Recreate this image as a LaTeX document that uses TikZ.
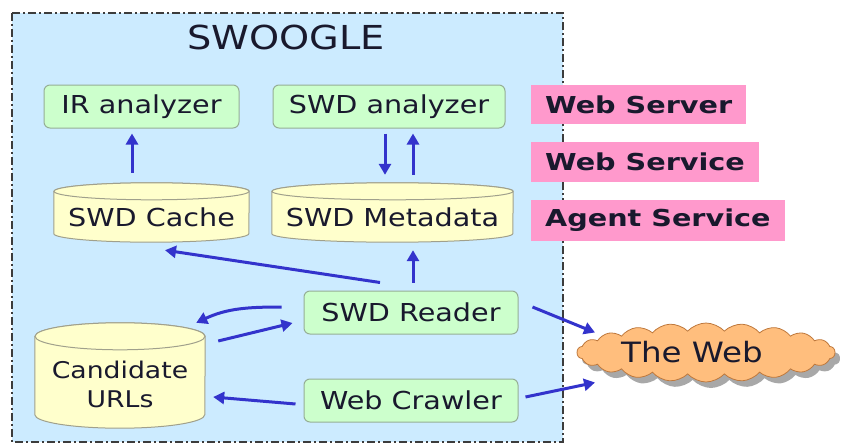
\documentclass[tikz,border=0pt]{standalone}
\usepackage{fontspec}
\setmainfont{DejaVu Sans}
\usepackage{graphicx}
\usetikzlibrary{arrows.meta,shapes.symbols,shadows,calc}
\definecolor{bluebg}{RGB}{204,235,255}
\definecolor{greenfill}{RGB}{204,255,204}
\definecolor{greenline}{RGB}{150,175,150}
\definecolor{yellowcyl}{RGB}{255,255,204}
\definecolor{cylline}{RGB}{160,160,140}
\definecolor{pinklab}{RGB}{255,153,204}
\definecolor{arrblue}{RGB}{51,51,204}
\definecolor{cloudfill}{RGB}{255,190,125}
\definecolor{cloudline}{RGB}{190,120,60}
\definecolor{txt}{RGB}{25,25,45}
\definecolor{frameline}{RGB}{60,60,60}
\newcommand\hst[1]{\scalebox{1.16}[1]{#1}}
\newcommand\lst[1]{\scalebox{1.23}[1]{#1}}
% #1 node name, #2 x radius, #3 y radius
\newcommand\drawcyl[3]{%
  \filldraw[cylstyle] ([yshift=-#3pt]#1.north west) -- ([yshift=#3pt]#1.south west)
    arc[start angle=180,end angle=0,x radius=#2,y radius=#3]
    -- ([yshift=-#3pt]#1.north east)
    arc[start angle=0,end angle=-180,x radius=#2,y radius=#3] -- cycle;
  \filldraw[cylstyle] ([yshift=-#3pt]#1.north) ellipse[x radius=#2,y radius=#3];
}
\begin{document}
\begin{tikzpicture}[x=1pt,y=-1pt,
  boxtext/.style={font=\fontsize{24.7}{29}\selectfont, text=txt},
  gbox/.style={rectangle, rounded corners=6pt, draw=greenline, line width=1pt,
     fill=greenfill, minimum height=43pt, inner sep=0pt, boxtext},
  cylbase/.style={rectangle, inner sep=0pt, draw=none},
  cylstyle/.style={draw=cylline, line width=1pt, fill=yellowcyl},
  cyltext/.style={boxtext, inner sep=0pt},
  pinklabel/.style={rectangle, fill=pinklab, inner xsep=14pt, inner ysep=0pt,
     font=\bfseries\fontsize{23.3}{28}\selectfont, text=txt, anchor=west},
  arr/.style={draw=arrblue, line width=3pt, -{Triangle[length=11pt,width=12pt]}},
  frame/.style={draw=frameline, line width=1.5pt, fill=bluebg,
     dash pattern=on 8pt off 3pt on 2pt off 3pt}
]
\useasboundingbox (0,0) rectangle (843,444);

% outer SWOOGLE frame
\path[frame] (12,13) rectangle (563,442);
\node[font=\fontsize{33}{40}\selectfont, text=txt] (title) at (286,37) {\hst{SWOOGLE}};

% analyzers
\node[gbox, minimum width=195pt] (ir) at (141.5,106.5) {\hst{IR analyzer}};
\node[gbox, minimum width=232pt] (ana) at (389,106.5) {\hst{SWD analyzer}};

% cylinders
\node[cylbase, minimum width=195pt, minimum height=59pt] (cache) at (151.5,212.5) {};
\drawcyl{cache}{97.5}{8.5}
\node[cyltext] (cachet) at (151.5,217) {\hst{SWD Cache}};

\node[cylbase, minimum width=241pt, minimum height=59pt] (meta) at (392.5,212.5) {};
\drawcyl{meta}{120.5}{8.5}
\node[cyltext] (metat) at (392.5,217) {\hst{SWD Metadata}};

\node[cylbase, minimum width=170pt, minimum height=105pt] (cand) at (120,375.5) {};
\drawcyl{cand}{85}{13.5}
\node[cyltext, font=\fontsize{23}{29}\selectfont, align=center] (candt) at (120,384.5)
  {\hst{Candidate}\\\hst{URLs}};

% reader / crawler
\node[gbox, minimum width=214pt] (reader) at (411,312.5) {\hst{SWD Reader}};
\node[gbox, minimum width=214pt] (crawler) at (411,400.5) {\hst{Web Crawler}};

% pink labels
\node[pinklabel, minimum height=39pt] (wserver) at (531,104.5) {\lst{Web Server}};
\node[pinklabel, minimum height=40pt] (wservice) at (531,162) {\lst{Web Service}};
\node[pinklabel, minimum height=41pt] (agent) at (531,220.5) {\lst{Agent Service}};

% the web cloud
\node[cloud, cloud puffs=22, cloud puff arc=95, aspect=4.37, draw=cloudline,
  line width=0.8pt, fill=cloudfill, minimum width=258pt, minimum height=59pt,
  inner sep=0pt,
  drop shadow={shadow xshift=5pt, shadow yshift=-6pt, fill=gray!75, opacity=0.9}]
  (web) at (706,352.5) {};
\node[font=\fontsize{28}{33}\selectfont, text=txt] (webt) at (692,352) {\hst{The Web}};

% arrows
\draw[arr] ([xshift=-19.5pt,yshift=10pt]cache.north) -- ([xshift=-9.5pt,yshift=-5pt]ir.south);
\draw[arr] ([xshift=-4pt,yshift=-5pt]ana.south) -- ([xshift=-7.5pt,yshift=8pt]meta.north);
\draw[arr] ([xshift=20.5pt,yshift=8pt]meta.north) -- ([xshift=24pt,yshift=-5pt]ana.south);
\draw[arr] ([xshift=-31pt,yshift=8pt]reader.north) -- ([xshift=13.5pt,yshift=-8pt]cache.south);
\draw[arr] ([xshift=2pt,yshift=8pt]reader.north) -- ([xshift=20.5pt,yshift=-8pt]meta.south);
\draw[arr] ([xshift=-22pt,yshift=5.5pt]reader.west) to[out=180,in=25] ([xshift=-9pt]cand.north east);
\draw[arr] ([xshift=13pt,yshift=34.5pt]cand.east) -- ([xshift=-11pt,yshift=-10.5pt]reader.west);
\draw[arr] ([xshift=-8pt,yshift=-3.5pt]crawler.west) -- ([xshift=8pt,yshift=-21.5pt]cand.east);
\draw[arr] ([xshift=14pt,yshift=5.5pt]reader.east) -- ([xshift=-111pt,yshift=20pt]web.center);
\draw[arr] ([xshift=7pt,yshift=3.5pt]crawler.east) -- ([xshift=-111pt,yshift=-30pt]web.center);
\end{tikzpicture}
\end{document}
